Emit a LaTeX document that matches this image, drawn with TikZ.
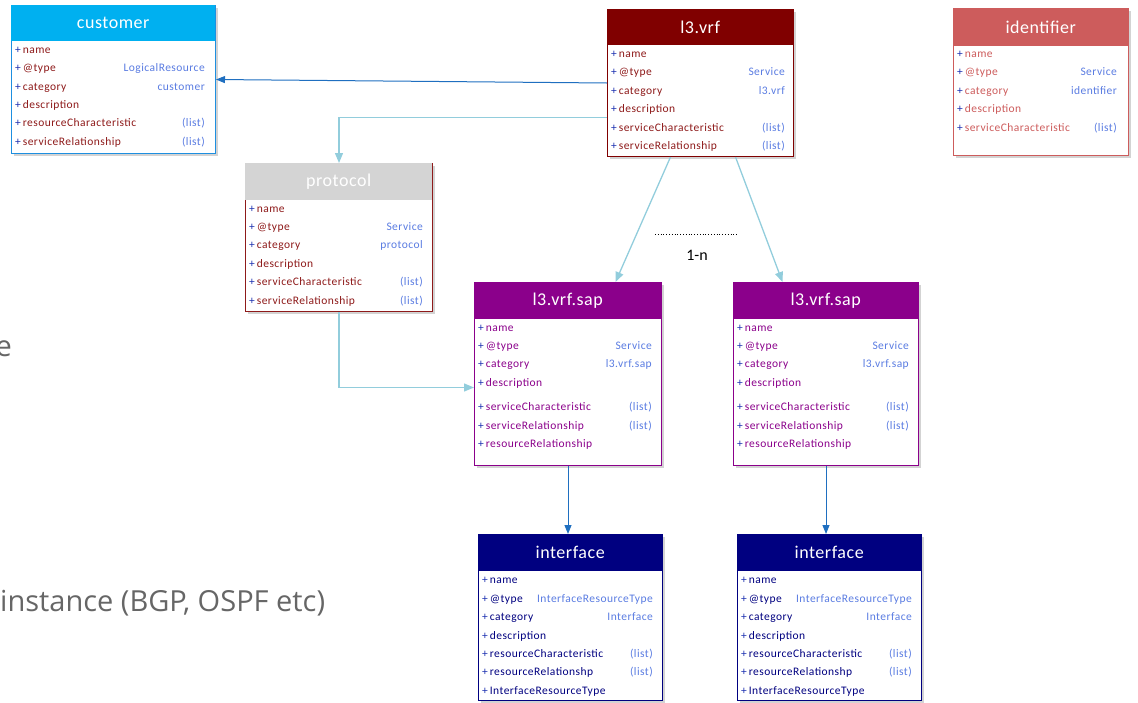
\documentclass[tikz,border=0pt]{standalone}
\usepackage{fontspec}
\setmainfont{Carlito}
\newfontfamily\bgfont{Open Sans}
\usetikzlibrary{arrows.meta,shadows}

\definecolor{custcyan}{HTML}{00B0F0}
\definecolor{custline}{HTML}{1E8FE0}
\definecolor{vrfred}{HTML}{800000}
\definecolor{rowred}{HTML}{8E1A1A}
\definecolor{identred}{HTML}{CD5C5C}
\definecolor{protogray}{HTML}{D4D4D4}
\definecolor{sappurple}{HTML}{8B008B}
\definecolor{ifnavy}{HTML}{000080}
\definecolor{valblue}{HTML}{5A7CE2}
\definecolor{plusblue}{HTML}{1A2FB0}
\definecolor{linkdark}{HTML}{1F6FC0}
\definecolor{linklight}{HTML}{92CDDC}
\definecolor{bggray}{HTML}{666666}

\newcommand{\plusmark}{\textcolor{plusblue}{+}\,}

\begin{document}
\begin{tikzpicture}[x=1pt,y=-1pt,
    frame/.style={draw,line width=1pt,fill=white,anchor=north west,inner sep=0pt,
        drop shadow={opacity=0.35,shadow xshift=2pt,shadow yshift=-2pt}},
    head/.style={anchor=north west,inner sep=0pt,text=white,minimum height=36pt,
        font=\fontsize{18}{20}\selectfont\addfontfeatures{LetterSpace=3}},
    key/.style={anchor=west,inner sep=0pt,text height=8pt,text depth=0.5pt,
        font=\fontsize{11.5}{13}\selectfont\addfontfeatures{LetterSpace=4}},
    val/.style={anchor=east,inner sep=0pt,text height=8pt,text depth=0.5pt,text=valblue,
        font=\fontsize{11.5}{13}\selectfont\addfontfeatures{LetterSpace=4}},
    darklink/.style={draw=linkdark,line width=1pt,-{Triangle[length=9pt,width=7pt]}},
    lightlink/.style={draw=linklight,line width=1.3pt,-{Triangle[length=10pt,width=8pt]}},
    bgtext/.style={inner sep=0pt,text=bggray,font=\bgfont\fontsize{29}{32}\selectfont}]
\useasboundingbox (0,0) rectangle (1138,702);

% slide text behind the diagram
\node[bgtext,anchor=east] (frag) at (12,349) {e};
\node[bgtext,anchor=west] (inst) at (0,603) {instance (BGP, OSPF etc)};

% customer
\node[frame,draw=custline,minimum width=204pt,minimum height=148pt] (cust) at (11,5) {};
\node[head,fill=custcyan,minimum width=204pt] (cust-h) at (11,5) {customer};
\foreach \y/\k/\v in {50/name/,68/@type/LogicalResource,87/category/customer,
    105/description/,123/resourceCharacteristic/(list),142/serviceRelationship/(list)}{
  \node[key,text=rowred] at (15,\y) {\plusmark\k};
  \node[val] at (205,\y) {\v};
}

% l3.vrf
\node[frame,draw=vrfred,minimum width=186pt,minimum height=147pt] (vrf) at (607,9) {};
\node[head,fill=vrfred,minimum width=186pt] (vrf-h) at (607,9) {l3.vrf};
\foreach \y/\k/\v in {54/name/,72/@type/Service,91/category/l3.vrf,
    109/description/,128/serviceCharacteristic/(list),146/serviceRelationship/(list)}{
  \node[key,text=rowred] at (611,\y) {\plusmark\k};
  \node[val] at (785,\y) {\v};
}

% identifier
\node[frame,draw=identred,minimum width=175pt,minimum height=147pt] (ident) at (953,8) {};
\node[head,fill=identred,minimum width=175pt,minimum height=38pt] (ident-h) at (953,8) {identifier};
\foreach \y/\k/\v in {54/name/,72/@type/Service,91/category/identifier,
    109/description/,128/serviceCharacteristic/(list)}{
  \node[key,text=identred] at (957,\y) {\plusmark\k};
  \node[val] at (1117,\y) {\v};
}

% protocol
\node[frame,draw=rowred,minimum width=187pt,minimum height=148pt] (proto) at (245,163) {};
\node[head,fill=protogray,minimum width=187pt,minimum height=37pt] (proto-h) at (245,163) {protocol};
\foreach \y/\k/\v in {209/name/,227/@type/Service,245/category/protocol,
    264/description/,282/serviceCharacteristic/(list),301/serviceRelationship/(list)}{
  \node[key,text=rowred] at (249,\y) {\plusmark\k};
  \node[val] at (423,\y) {\v};
}

% l3.vrf.sap (two of them)
\foreach \n/\x/\w in {1/474/187,2/733/185}{
  \node[frame,draw=sappurple,minimum width=\w pt,minimum height=183pt] (sap\n) at (\x,282) {};
  \node[head,fill=sappurple,minimum width=\w pt,minimum height=37pt] (sap\n-h) at (\x,282) {l3.vrf.sap};
  \foreach \y/\k/\v in {328/name/,346/@type/Service,364/category/l3.vrf.sap,383/description/,
      407/serviceCharacteristic/(list),426/serviceRelationship/(list),444/resourceRelationship/}{
    \node[key,text=sappurple] at (\x+4,\y) {\plusmark\k};
    \node[val] at (\x+\w-9,\y) {\v};
  }
}

% interface (two of them)
\foreach \n/\x in {1/478,2/737}{
  \node[frame,draw=ifnavy,minimum width=184pt,minimum height=166pt] (if\n) at (\x,534) {};
  \node[head,fill=ifnavy,minimum width=184pt,minimum height=37pt] (if\n-h) at (\x,534) {interface};
  \foreach \y/\k/\v in {580/name/,599/@type/InterfaceResourceType,617/category/Interface,
      636/description/,654/resourceCharacteristic/(list),672/resourceRelationshp/(list),
      691/InterfaceResourceType/}{
    \node[key,text=ifnavy] at (\x+4,\y) {\plusmark\k};
    \node[val] at (\x+175,\y) {\v};
  }
}

% links
\draw[darklink] (vrf.west) -- (cust.east);
\draw[lightlink] ([yshift=-34.5pt]vrf.west) -| (proto.north);
\draw[lightlink] (proto.south) |- ([yshift=-13.5pt]sap1.west);
\draw[lightlink] ([xshift=-30pt]vrf.south) -- ([xshift=47.5pt]sap1.north);
\draw[lightlink] ([xshift=35pt]vrf.south) -- ([xshift=-43.5pt]sap2.north);
\draw[darklink] (sap1.south) -- (sap1.south |- if1.north);
\draw[darklink] (sap2.south) -- (sap2.south |- if2.north);

% 1-n marker
\coordinate (dotl) at (655,234);
\coordinate (dotr) at (737,234);
\draw[dotted,thick] (dotl) -- (dotr);
\node[font=\fontsize{16}{18}\selectfont] (mult) at (697,255) {1-n};
\end{tikzpicture}
\end{document}
